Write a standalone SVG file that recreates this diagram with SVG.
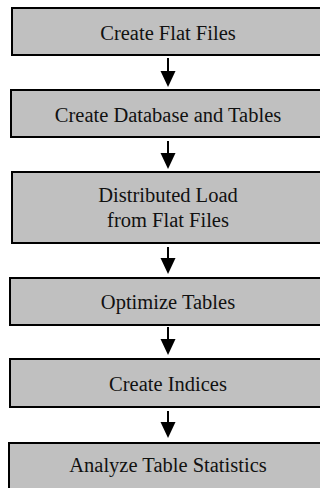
<svg xmlns="http://www.w3.org/2000/svg" width="320" height="488" viewBox="0 0 320 488">
<style>
.box{fill:#c0c0c0;stroke:#000;stroke-width:2}
.lbl{font-family:"Liberation Serif","Times New Roman",serif;font-size:20.5px;fill:#111;text-anchor:middle}
.conn{stroke:#000;stroke-width:2;fill:none}
.head{fill:#000}
</style>
<rect width="320" height="488" fill="#fff"/>
<g id="n1"><rect class="box" x="12" y="8" width="314" height="47"/><text class="lbl" x="168" y="40">Create Flat Files</text></g>
<g id="n2"><rect class="box" x="11" y="90" width="315" height="47"/><text class="lbl" x="168" y="122">Create Database and Tables</text></g>
<g id="n3"><rect class="box" x="12" y="172" width="314" height="71"/><text class="lbl" x="168" y="202">Distributed Load</text><text class="lbl" x="168" y="227">from Flat Files</text></g>
<g id="n4"><rect class="box" x="10" y="278" width="316" height="47"/><text class="lbl" x="168" y="309">Optimize Tables</text></g>
<g id="n5"><rect class="box" x="10" y="359" width="316" height="48"/><text class="lbl" x="168" y="391">Create Indices</text></g>
<g id="n6"><rect class="box" x="9" y="443" width="317" height="50"/><text class="lbl" x="168" y="472">Analyze Table Statistics</text></g>
<g id="connectors">
<line class="conn" x1="168" y1="58" x2="168" y2="74"/><polygon class="head" points="160.5,71 175.5,71 168,87"/>
<line class="conn" x1="168" y1="141" x2="168" y2="156"/><polygon class="head" points="160.5,153 175.5,153 168,169"/>
<line class="conn" x1="168" y1="247" x2="168" y2="260"/><polygon class="head" points="160.5,258 175.5,258 168,274"/>
<line class="conn" x1="168" y1="327" x2="168" y2="342"/><polygon class="head" points="160.5,339 175.5,339 168,355"/>
<line class="conn" x1="168" y1="411" x2="168" y2="425"/><polygon class="head" points="160.5,422 175.5,422 168,438"/>
</g>
</svg>
